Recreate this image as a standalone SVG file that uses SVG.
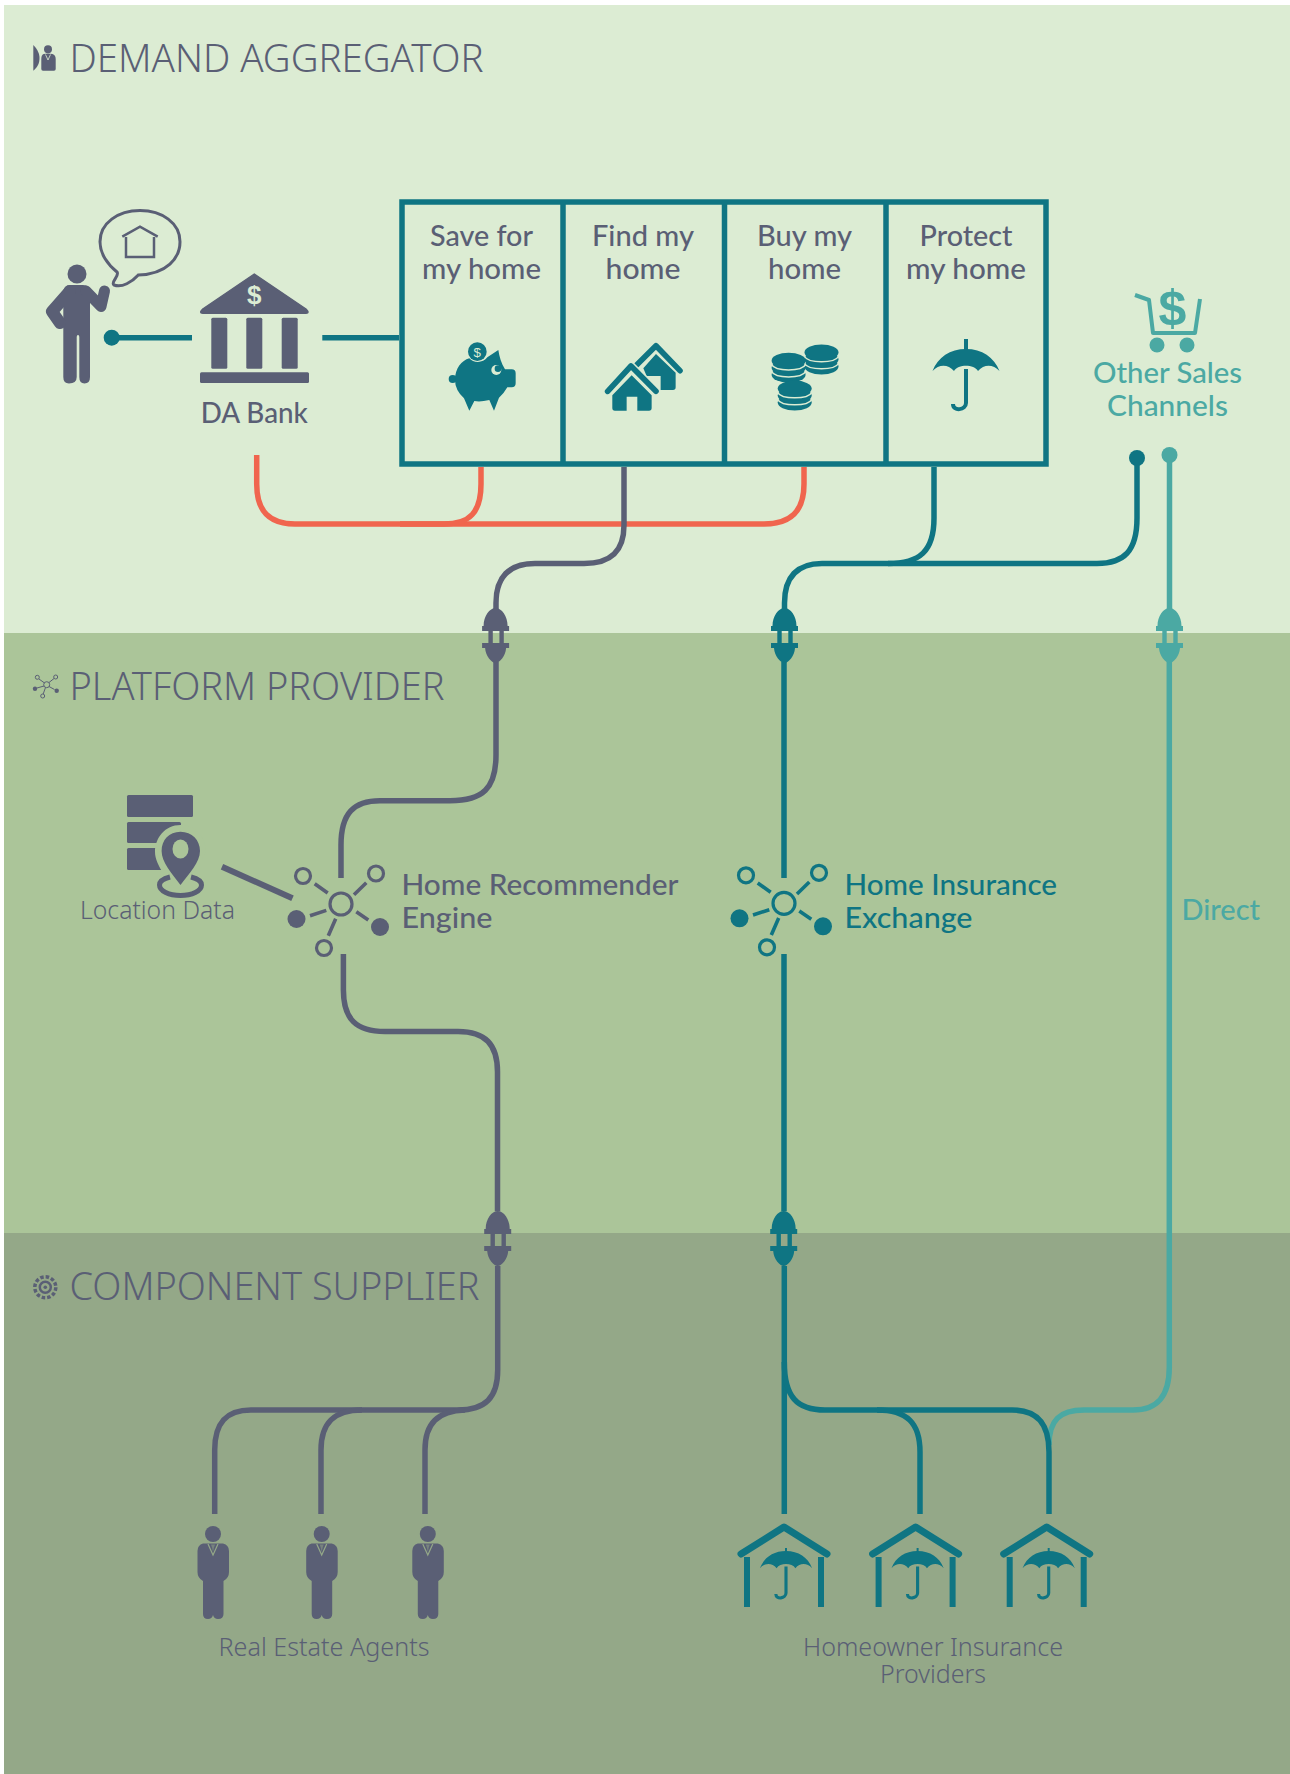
<svg xmlns="http://www.w3.org/2000/svg" width="1290" height="1774" viewBox="0 0 1290 1774">
<style>
text{font-family:"Noto Sans","Liberation Sans",sans-serif;}
.title{font-size:38px;font-weight:300;fill:#5a5f75;}
.label{font-family:"Lato","Noto Sans",sans-serif;font-size:29px;font-weight:500;fill:#5a5f75;text-anchor:middle;}
.small{font-size:25px;font-weight:300;fill:#5a5f75;text-anchor:middle;}
.sign{font-family:"Liberation Sans",sans-serif;font-weight:700;text-anchor:middle;}
.wire{fill:none;stroke-width:5.500;stroke-linecap:butt;}
.slate{color:#5a5f75;}.teal{color:#0f7583;}.aqua{color:#4ba9a3;}
.cs{stroke:#5a5f75;}.ct{stroke:#0f7583;}.ca{stroke:#4ba9a3;}.cc{stroke:#f0654e;}
.f{fill:currentColor;}
.ln{fill:none;stroke:currentColor;}
</style>
<defs>
<g id="plug"><path class="f" d="M-12 18C-12 8-6 0 0 0C6 0 12 8 12 18H13.500V23H-13.500V18Z"/><rect class="f" x="-7.200" y="23" width="4.400" height="12"/><rect class="f" x="3.800" y="23" width="4.400" height="12"/><path class="f" d="M-13.500 35H13.500V40H10.500C10 48 4 55 0 55C-4 55-10 48-10.500 40H-13.500Z"/></g>
<g id="net"><circle class="ln" stroke-width="3.200" cx="0" cy="0" r="11"/><circle class="ln" stroke-width="3.200" cx="-38" cy="-28" r="7.500"/><circle class="ln" stroke-width="3.200" cx="35" cy="-30.500" r="7.500"/><circle class="f" cx="-44.500" cy="15" r="9"/><circle class="f" cx="39" cy="23" r="9"/><circle class="ln" stroke-width="3.200" cx="-17" cy="44" r="7.500"/><path class="ln" stroke-width="3.600" d="M-26.300-20.300L-13.300-11M25.300-21.300L13-9.300M-14.700 6.400L-31 11.700M15.300 7.700L27.300 16M-5.300 14.700L-12.700 31.700"/></g>
<g id="umb"><path class="f" d="M-33.500 22C-28 8-16 0 0 0C16 0 28 8 33.500 22C27 15 18 15 12 22C8 15-8 15-12 22C-18 15-27 15-33.500 22Z"/><path class="ln" stroke-width="4" d="M0 20V54C0 61-13 63-13 55"/></g>
<g id="agent"><circle class="f" cx="0" cy="0" r="8"/><path class="f" d="M-10 9.500Q-15.500 11-15.500 17V38Q-15.500 44-10 47V80Q-10 85-5 85Q-1 85 0 81Q1 85 5 85Q10.500 85 10.500 80V47Q16 44 16 38V17Q16 11 10 9.500Z"/><path d="M-5 10L0 21L5 10" fill="none" stroke="#94a888" stroke-width="1.200"/><path d="M-2 10.500H2L1 13.500L0 18L-1 13.500Z" fill="#94a888" opacity=".5"/></g>
<g id="ihouse"><path class="ln" stroke-width="7" stroke-linecap="round" stroke-linejoin="round" d="M-43 27L0 0L43 27"/><path class="ln" stroke-width="6" d="M-37 30V80M37 30V80"/><path class="ln" stroke-width="2" d="M2 21V25"/><use href="#umb" transform="translate(2 24) scale(.78)"/></g>
<g id="coins"><ellipse class="f" cx="0" cy="14" rx="17" ry="8"/><path d="M-17 11C-13 18 13 18 17 11" fill="none" stroke="#dcecd3" stroke-width="1.500"/><ellipse class="f" cx="0" cy="7" rx="17" ry="8"/><path d="M-17 4C-13 11 13 11 17 4" fill="none" stroke="#dcecd3" stroke-width="1.500"/><ellipse class="f" cx="0" cy="0" rx="17" ry="8"/></g>
</defs>

<g id="bands">
<rect x="4" y="5" width="1286" height="628" fill="#dcecd3"/>
<rect x="4" y="633" width="1286" height="600" fill="#abc599"/>
<rect x="4" y="1233" width="1286" height="541" fill="#94a888"/>
</g>

<g id="connectors">
<path class="wire ct" d="M192 337.700H108M322.300 337.700H399"/>
<path class="wire cc" d="M256.700 455V484C256.700 512 270 524 295 524H764C790 524 804 512 804 484V467"/>
<path class="wire cc" d="M400 524H444C470 524 481 512 481 484V467"/>
<path class="wire cs" d="M624 467V525C624 551 611 563.500 584 563.500H535C509 563.500 496 577 496 603V609"/>
<path class="wire ct" d="M934 467V518C934 551 920 563.500 888 563.500"/>
<path class="wire ct" d="M1137 460V518C1137 551 1124 563.500 1097 563.500H822C797 563.500 784.500 577 784.500 603V610"/>
<path class="wire ca" d="M1169.500 455V610"/>
<path class="wire cs" d="M496 662V755C496 788 483 800.700 450 800.700H380C354 800.700 341 813 341 845V878"/>
<path class="wire cs" d="M343.400 954V990C343.400 1019 356 1031.500 385 1031.500H458C485 1031.500 497.500 1044 497.500 1072V1211"/>
<path class="wire cs" d="M497.700 1266V1370C497.700 1398 485 1410 458 1410H251C226 1410 214.700 1423 214.700 1450V1514"/>
<path class="wire cs" d="M321 1514V1450C321 1423 334 1410 362 1410"/>
<path class="wire cs" d="M425 1514V1450C425 1423 438 1411 465 1410"/>
<path class="wire ct" d="M784 662V878M784 954V1211"/>
<path class="wire ca" d="M1169.300 662V1367C1169.300 1397 1157 1410 1133 1410H1084C1060 1410 1049 1420 1049 1445"/>
<path class="wire ct" d="M784.300 1266V1514"/>
<path class="wire ct" d="M784.300 1362C784.300 1397 797 1410 825 1410H1012C1037 1410 1049 1423 1049 1452V1514"/>
<path class="wire ct" d="M920 1514V1452C920 1423 907 1410 877 1410"/>
<circle cx="111.700" cy="337.700" r="8" fill="#0f7583"/>
<circle cx="1137" cy="458" r="8" fill="#0f7583"/>
<circle cx="1169.500" cy="455" r="8" fill="#4ba9a3"/>
<path d="M222 866.700L292.500 898.300" fill="none" stroke="#5a5f75" stroke-width="6"/>
</g>

<g id="plugs">
<use href="#plug" class="slate" transform="translate(495.600 608)"/>
<use href="#plug" class="teal" transform="translate(784.500 608)"/>
<use href="#plug" class="aqua" transform="translate(1169.500 608)"/>
<use href="#plug" class="slate" transform="translate(497.700 1211)"/>
<use href="#plug" class="teal" transform="translate(783.700 1211)"/>
</g>

<g id="demand-aggregator">
<path d="M33.300 45C38 50 39.500 54 39.500 58C39.500 63 38 67 33.300 70.700Z" fill="#5a5f75"/>
<circle cx="48" cy="49.300" r="4" fill="#5a5f75"/>
<path d="M43.500 54L48 53.500L52.500 54Q55.700 55 55.700 59V69Q55.700 70.700 54 70.700H43Q41.300 70.700 41.300 69V59Q41.300 55 43.500 54Z" fill="#5a5f75"/>
<path d="M45.500 54.500L48 60L50.500 54.500" fill="none" stroke="#dcecd3" stroke-width=".8"/>
<text class="title" x="69.500" y="71.500" textLength="414" lengthAdjust="spacingAndGlyphs">DEMAND AGGREGATOR</text>
</g>

<g id="customer">
<circle cx="77" cy="274" r="9.500" fill="#5a5f75"/>
<path d="M70 285H83Q90 285 90 293V377Q90 383.500 84.500 383.500Q79.300 383.500 79.300 377V337Q79.300 335 78 335Q76.700 335 76.700 337V377Q76.700 383.500 69 383.500Q63.300 383.500 63.300 377V293Q63.300 285 70 285Z" fill="#5a5f75"/>
<path d="M70 291L52 311.500L60 323" fill="none" stroke="#5a5f75" stroke-width="12" stroke-linecap="round" stroke-linejoin="round"/>
<path d="M86 291L101 306.500L104.500 291" fill="none" stroke="#5a5f75" stroke-width="11" stroke-linecap="round" stroke-linejoin="round"/>
<path d="M138.300 275C167 274 180 258 180 241.700C180 223 162 210.500 140 210.500C118 210.500 100 223 100 241.700C100 254 108 265 117 272C120 276 110 282 114 285C122 288 132 282 138.300 275Z" fill="none" stroke="#5a5f75" stroke-width="3"/>
<path d="M122.300 236.700L140 226.700L157.700 236.700M126 237V257H154V237" fill="none" stroke="#5a5f75" stroke-width="2.500"/>
</g>

<g id="da-bank">
<path d="M254.300 274L306 309Q310 313.300 306 313.300H202.700Q198.700 313.300 202.700 309Z" fill="#5a5f75" stroke="#5a5f75" stroke-width="1.500" stroke-linejoin="round"/>
<rect x="211.300" y="317.700" width="16" height="51" rx="1.500" fill="#5a5f75"/>
<rect x="246.300" y="317.700" width="16" height="51" rx="1.500" fill="#5a5f75"/>
<rect x="281.700" y="317.700" width="16" height="51" rx="1.500" fill="#5a5f75"/>
<rect x="200" y="372.300" width="109" height="10.700" rx="1.500" fill="#5a5f75"/>
<text class="sign" x="254.300" y="304" font-size="26" fill="#dcecd3">$</text>
<text class="label" x="254.300" y="422.700" textLength="107" lengthAdjust="spacingAndGlyphs">DA Bank</text>
</g>

<g id="journey-box">
<rect x="402" y="202" width="644" height="262" fill="none" stroke="#0f7583" stroke-width="5.500"/>
<path d="M563 202V464M724.500 202V464M886 202V464" fill="none" stroke="#0f7583" stroke-width="5.500"/>
</g>

<g id="save" class="teal">
<text class="label" x="481.500" y="246" textLength="103" lengthAdjust="spacingAndGlyphs">Save for</text>
<text class="label" x="481.500" y="279" textLength="119" lengthAdjust="spacingAndGlyphs">my home</text>
<g transform="translate(430 330) scale(.3333)">
<circle class="f" cx="68" cy="147" r="12"/>
<path class="f" d="M75 150C75 115 95 92 118 85C130 100 160 100 172 82L205 60C208 80 214 100 225 118L245 118Q257 118 257 130V160Q257 172 245 172L232 172Q222 190 207 203L192 242L178 210Q150 217 133 213L118 242L102 205Q75 180 75 150Z"/>
<circle class="f" cx="142" cy="65" r="28"/>
<circle cx="199" cy="120" r="15" fill="#dcecd3"/><circle class="f" cx="204" cy="116" r="10"/>
<text class="sign" style="font-weight:400" x="142" y="80" font-size="40" fill="#dcecd3">$</text>
</g>
</g>

<g id="find" class="teal">
<text class="label" x="643" y="246" textLength="102" lengthAdjust="spacingAndGlyphs">Find my</text>
<text class="label" x="643" y="279" textLength="75" lengthAdjust="spacingAndGlyphs">home</text>
<g transform="translate(430 330) scale(.3333)">
<path class="ln" stroke-width="17" stroke-linecap="round" stroke-linejoin="round" d="M620 105L678 47L750 122"/>
<path class="f" d="M640 115L678 72L737 128V172Q737 180 729 180H692V138H650Z"/>
<path fill="none" stroke="#dcecd3" stroke-width="26" stroke-linejoin="round" d="M533 184L603 108L678 184"/>
<path class="ln" stroke-width="17" stroke-linecap="round" stroke-linejoin="round" d="M533 184L603 108L678 184"/>
<path class="f" d="M605 136L665 196V234Q665 242 657 242H622V200H590V242H555Q547 242 547 234V196Z"/>
</g>
</g>

<g id="buy" class="teal">
<text class="label" x="804.500" y="246" textLength="95" lengthAdjust="spacingAndGlyphs">Buy my</text>
<text class="label" x="804.500" y="279" textLength="73" lengthAdjust="spacingAndGlyphs">home</text>
<use href="#coins" transform="translate(821.500 352.500)"/>
<use href="#coins" transform="translate(788.600 360.700)"/>
<use href="#coins" transform="translate(794.700 388.600)"/>
</g>

<g id="protect" class="teal">
<text class="label" x="966" y="246" textLength="93" lengthAdjust="spacingAndGlyphs">Protect</text>
<text class="label" x="966" y="279" textLength="120" lengthAdjust="spacingAndGlyphs">my home</text>
<path class="ln" stroke-width="4" d="M966 339V350"/>
<use href="#umb" transform="translate(966 349)"/>
</g>

<g id="other-sales" class="aqua">
<path class="ln" stroke-width="4" stroke-linejoin="round" d="M1135 295L1149 300L1153 333H1195L1200 299"/>
<circle class="f" cx="1157" cy="345" r="7.500"/><circle class="f" cx="1187" cy="345" r="7.500"/>
<text class="sign" x="1172.400" y="325" font-size="50" fill="#4ba9a3">$</text>
<text class="label" style="fill:#4ba9a3" x="1167.500" y="383" textLength="149" lengthAdjust="spacingAndGlyphs">Other Sales</text>
<text class="label" style="fill:#4ba9a3" x="1167.500" y="416" textLength="121" lengthAdjust="spacingAndGlyphs">Channels</text>
</g>

<g id="platform-provider">
<circle cx="46.700" cy="684.700" r="3" fill="none" stroke="#5a5f75" stroke-width="1"/>
<circle cx="37.300" cy="677.300" r="2" fill="none" stroke="#5a5f75" stroke-width="1"/>
<circle cx="55.700" cy="677" r="2" fill="none" stroke="#5a5f75" stroke-width="1"/>
<circle cx="35" cy="688.700" r="2.200" fill="#5a5f75"/>
<circle cx="56.700" cy="690.700" r="2.200" fill="#5a5f75"/>
<circle cx="42.700" cy="696" r="2" fill="none" stroke="#5a5f75" stroke-width="1"/>
<path d="M39 679L44.500 683M54 678.500L49 682.500M37 688L44 686M54.500 689.500L49 686.500M45.500 687.500L43.200 694" fill="none" stroke="#5a5f75" stroke-width="1"/>
<text class="title" x="69.500" y="700" textLength="375" lengthAdjust="spacingAndGlyphs">PLATFORM PROVIDER</text>
</g>

<g id="location-data">
<rect x="127" y="795" width="66" height="22" rx="1.500" fill="#5a5f75"/>
<rect x="127" y="822" width="54" height="21" rx="1.500" fill="#5a5f75"/>
<rect x="127" y="848" width="40" height="22" rx="1.500" fill="#5a5f75"/>
<path d="M180.500 825C165 825 155 838 155 852C155 866 170 882 180.500 897L206 852C206 838 196 825 180.500 825Z" fill="#abc599"/>
<path d="M180.500 831.700C169 831.700 161.600 840 161.600 851C161.600 862 172 874 180.500 885C189 874 200 862 200 851C200 840 192 831.700 180.500 831.700Z" fill="#5a5f75"/>
<ellipse cx="180.500" cy="849" rx="8" ry="9.500" fill="#abc599"/>
<path d="M170 877C162 879 159.500 882 159.500 885C159.500 891 169 895.500 180.500 895.500C192 895.500 201.500 891 201.500 885C201.500 882 199 879 191 877" fill="none" stroke="#5a5f75" stroke-width="5"/>
<text class="small" x="157.500" y="918.700" textLength="155" lengthAdjust="spacingAndGlyphs">Location Data</text>
</g>

<g id="home-recommender" class="slate">
<use href="#net" transform="translate(341 904)"/>
<text class="label" style="text-anchor:start" x="401.500" y="895" textLength="277" lengthAdjust="spacingAndGlyphs">Home Recommender</text>
<text class="label" style="text-anchor:start" x="401.500" y="927.500" textLength="91" lengthAdjust="spacingAndGlyphs">Engine</text>
</g>

<g id="home-insurance" class="teal">
<use href="#net" transform="translate(784 903.300)"/>
<text class="label" style="text-anchor:start;fill:#0f7583" x="844.500" y="895" textLength="212.500" lengthAdjust="spacingAndGlyphs">Home Insurance</text>
<text class="label" style="text-anchor:start;fill:#0f7583" x="844.500" y="927.500" textLength="128" lengthAdjust="spacingAndGlyphs">Exchange</text>
</g>

<g id="direct">
<text class="label" style="text-anchor:start;fill:#4ba9a3" x="1181.500" y="920" textLength="78.500" lengthAdjust="spacingAndGlyphs">Direct</text>
</g>

<g id="component-supplier">
<circle cx="45.300" cy="1287.300" r="10.500" fill="none" stroke="#5a5f75" stroke-width="3.500" stroke-dasharray="3.500 2"/>
<circle cx="45.300" cy="1287.300" r="5.500" fill="none" stroke="#5a5f75" stroke-width="2.500"/>
<circle cx="45.300" cy="1287.300" r="1.800" fill="#5a5f75"/>
<text class="title" x="69.500" y="1299.500" textLength="410" lengthAdjust="spacingAndGlyphs">COMPONENT SUPPLIER</text>
</g>

<g id="real-estate-agents" class="slate">
<use href="#agent" transform="translate(213 1534)"/>
<use href="#agent" transform="translate(321.700 1534)"/>
<use href="#agent" transform="translate(427.800 1534)"/>
<text class="small" x="324" y="1656" textLength="211" lengthAdjust="spacingAndGlyphs">Real Estate Agents</text>
</g>

<g id="insurance-providers" class="teal">
<use href="#ihouse" transform="translate(784 1527)"/>
<use href="#ihouse" transform="translate(915.600 1527)"/>
<use href="#ihouse" transform="translate(1046.700 1527)"/>
<text class="small" x="933" y="1656" textLength="260" lengthAdjust="spacingAndGlyphs">Homeowner Insurance</text>
<text class="small" x="933" y="1682.700" textLength="106" lengthAdjust="spacingAndGlyphs">Providers</text>
</g>
</svg>
